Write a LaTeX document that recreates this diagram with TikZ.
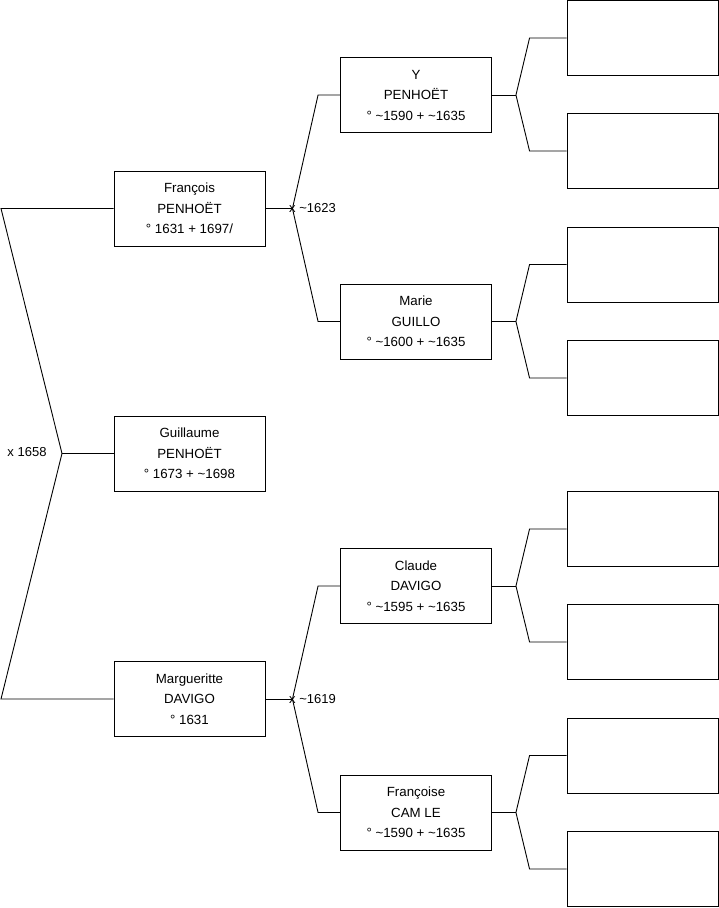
\documentclass[tikz,border=0pt]{standalone}
\usepackage{fontspec}
\setmainfont{Liberation Sans}
\usetikzlibrary{positioning}
\newcommand{\circa}{\textasciitilde}

\begin{document}
\begin{tikzpicture}[x=1pt, y=-1pt,
    pers/.style={rectangle, draw=black, line width=0.9pt, fill=white,
                 minimum width=151pt, minimum height=75pt, inner sep=0pt,
                 font=\fontsize{13.3}{20.5}\selectfont, align=center},
    blank/.style={pers},
    link/.style={draw=black, line width=0.9pt},
    lbl/.style={font=\fontsize{13}{14}\selectfont, inner sep=0pt}
  ]
  \useasboundingbox (0,0) rectangle (719,908);
  % Generation 1: subject
  \node[pers] (gu) at (189.5,453.5) {Guillaume\\PENHOËT\\° 1673 + \circa1698};
  % Generation 2: parents
  \node[pers] (fr) at (189.5,208.5) {François\\PENHOËT\\° 1631 + 1697/};
  \node[pers] (ma) at (189.5,699) {Margueritte\\DAVIGO\\° 1631};
  % Generation 3: grandparents
  \node[pers] (y)  at (416,95)    {Y\\PENHOËT\\° \circa1590 + \circa1635};
  \node[pers] (mr) at (416,321.5) {Marie\\GUILLO\\° \circa1600 + \circa1635};
  \node[pers] (cl) at (416,586)   {Claude\\DAVIGO\\° \circa1595 + \circa1635};
  \node[pers] (fc) at (416,812.5) {Françoise\\CAM LE\\° \circa1590 + \circa1635};
  % Generation 4: unknown
  \foreach \i/\y in {1/38, 2/151, 3/264.5, 4/378, 5/529, 6/642, 7/755.5, 8/869} {
    \node[blank] (g\i) at (642.5,\y) {};
  }
  % parents of Guillaume
  \coordinate (lt) at (1,208.5);
  \coordinate (lb) at (1,699);
  \coordinate (jl) at (62,453.5);
  \draw[link] (fr.west) -- (lt) -- (jl) -- (lb) -- (ma.west);
  \draw[link] (jl) -- (gu.west);
  \node[lbl] (m1) at (27,452) {x 1658};
  % parents of François and Margueritte
  \foreach \c/\a/\b/\d in {fr/y/mr/\circa1623, ma/cl/fc/\circa1619} {
    \coordinate (j\c) at ([xshift=27pt]\c.east);
    \draw[link] (\c.east) -- (j\c);
    \draw[link] (j\c) -- ([xshift=-22pt]\a.west) -- (\a.west);
    \draw[link] (j\c) -- ([xshift=-22pt]\b.west) -- (\b.west);
    \node[lbl, anchor=west] (m\c) at ([xshift=-3.5pt]j\c) {x \d};
  }
  % parents of the grandparents
  \foreach \p/\a/\b in {y/1/2, mr/3/4, cl/5/6, fc/7/8} {
    \coordinate (j\p) at ([xshift=24pt]\p.east);
    \draw[link] (\p.east) -- (j\p);
    \draw[link] (j\p) -- ([xshift=-37pt]g\a.west) -- (g\a.west);
    \draw[link] (j\p) -- ([xshift=-37pt]g\b.west) -- (g\b.west);
  }
\end{tikzpicture}
\end{document}
